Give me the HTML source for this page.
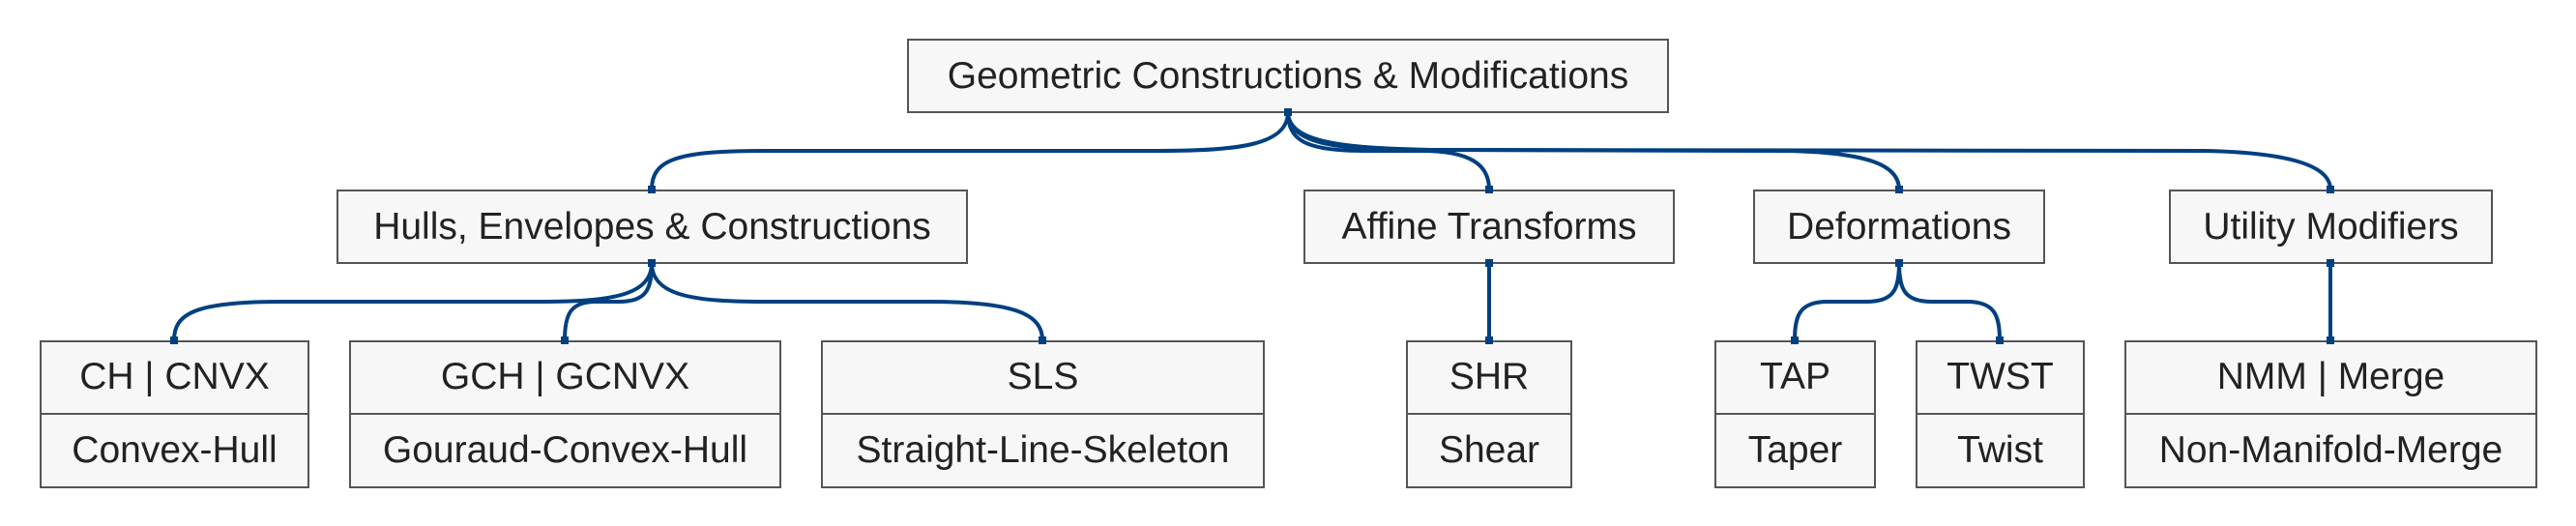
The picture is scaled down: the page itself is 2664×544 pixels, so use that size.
<!DOCTYPE html>
<html><head><meta charset="utf-8"><style>
html,body{margin:0;padding:0;background:#fff;}
body{width:2664px;height:544px;position:relative;overflow:hidden;font-family:"Liberation Sans",sans-serif;color:#222;}
.b{position:absolute;box-sizing:border-box;border:2px solid #555;background:#f7f7f7;display:flex;align-items:center;justify-content:center;font-size:39px;}
.l{position:absolute;box-sizing:border-box;border:2px solid #555;background:#f7f7f7;font-size:39px;}
.l div{height:50%;display:flex;align-items:center;justify-content:center;box-sizing:border-box;}
.l div:first-child{border-bottom:2px solid #555;}
svg{position:absolute;left:0;top:0;z-index:2;}
</style></head><body>
<div class="b" style="left:938px;top:40px;width:788px;height:77px;">Geometric Constructions &amp; Modifications</div>
<div class="b" style="left:348px;top:196px;width:653px;height:77px;">Hulls, Envelopes &amp; Constructions</div>
<div class="b" style="left:1348px;top:196px;width:384px;height:77px;">Affine Transforms</div>
<div class="b" style="left:1813px;top:196px;width:302px;height:77px;">Deformations</div>
<div class="b" style="left:2243px;top:196px;width:335px;height:77px;">Utility Modifiers</div>
<div class="l" style="left:41px;top:352px;width:279px;height:153px;"><div>CH | CNVX</div><div>Convex-Hull</div></div>
<div class="l" style="left:361px;top:352px;width:447px;height:153px;"><div>GCH | GCNVX</div><div>Gouraud-Convex-Hull</div></div>
<div class="l" style="left:849px;top:352px;width:459px;height:153px;"><div>SLS</div><div>Straight-Line-Skeleton</div></div>
<div class="l" style="left:1454px;top:352px;width:172px;height:153px;"><div>SHR</div><div>Shear</div></div>
<div class="l" style="left:1773px;top:352px;width:167px;height:153px;"><div>TAP</div><div>Taper</div></div>
<div class="l" style="left:1981px;top:352px;width:175px;height:153px;"><div>TWST</div><div>Twist</div></div>
<div class="l" style="left:2197px;top:352px;width:427px;height:153px;"><div>NMM | Merge</div><div>Non-Manifold-Merge</div></div>
<svg width="2664" height="544" viewBox="0 0 2664 544">
<g fill="none" stroke="#004080" stroke-width="4">
<path d="M1332,116 C1332,150 1280,156 1200,156 L790,156 C700,156 674,165 674,196"/>
<path d="M1332,116 C1332,145 1350,156 1410,156 L1470,156 C1520,156 1540,170 1540,196"/>
<path d="M1332,116 C1332,148 1380,154 1450,155 L1850,156 C1930,158 1964,170 1964,196"/>
<path d="M1332,116 C1332,150 1400,153 1480,155 L2280,156 C2370,158 2410,172 2410,196"/>
<path d="M674,272 C674,306 630,312 560,312 L290,312 C200,312 180,325 180,352"/>
<path d="M674,272 C674,300 668,312 640,312 L616,312 C590,312 584,325 584,352"/>
<path d="M674,272 C674,306 718,312 790,312 L960,312 C1050,312 1078,325 1078,352"/>
<path d="M1540,272 L1540,352"/>
<path d="M1964,272 C1964,300 1958,312 1930,312 L1890,312 C1862,312 1856,325 1856,352"/>
<path d="M1964,272 C1964,300 1970,312 1998,312 L2034,312 C2062,312 2068,325 2068,352"/>
<path d="M2410,272 L2410,352"/>
</g>
<g fill="#004080">
<rect x="1328" y="112" width="8" height="8"/>
<rect x="670" y="192" width="8" height="8"/><rect x="1536" y="192" width="8" height="8"/>
<rect x="1960" y="192" width="8" height="8"/><rect x="2406" y="192" width="8" height="8"/>
<rect x="670" y="268" width="8" height="8"/><rect x="1536" y="268" width="8" height="8"/>
<rect x="1960" y="268" width="8" height="8"/><rect x="2406" y="268" width="8" height="8"/>
<rect x="176" y="348" width="8" height="8"/><rect x="580" y="348" width="8" height="8"/>
<rect x="1074" y="348" width="8" height="8"/><rect x="1536" y="348" width="8" height="8"/>
<rect x="1852" y="348" width="8" height="8"/><rect x="2064" y="348" width="8" height="8"/>
<rect x="2406" y="348" width="8" height="8"/>
</g>
</svg>
</body></html>
